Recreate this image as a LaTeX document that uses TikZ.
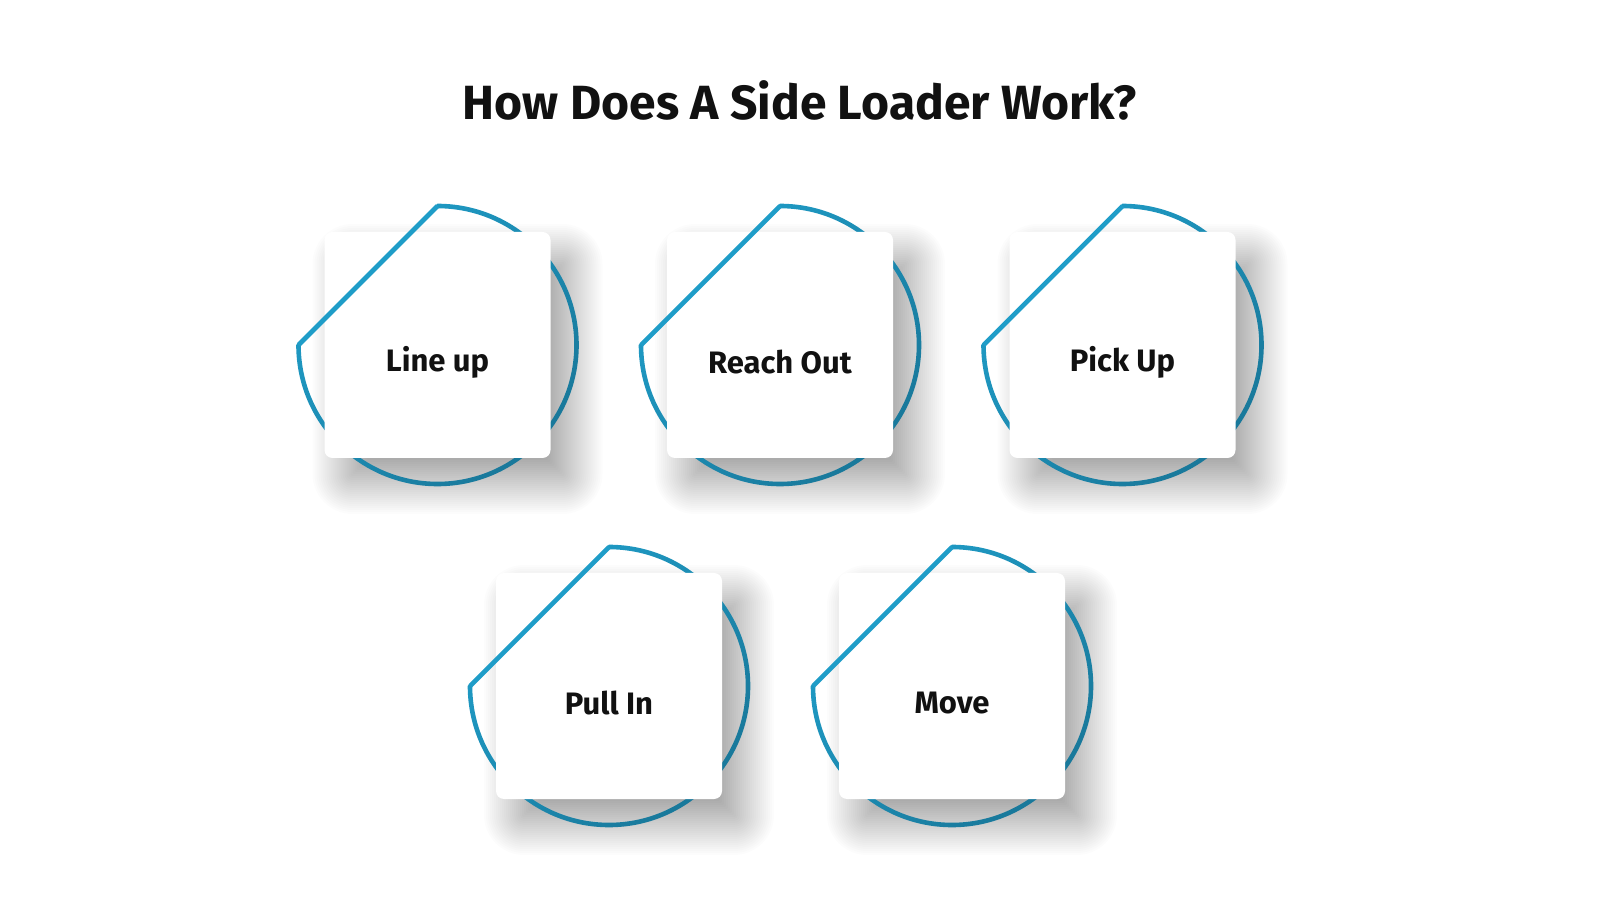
\documentclass[tikz,border=0pt]{standalone}
\usepackage{fontspec}
\setmainfont{Fira Sans}
\definecolor{ringA}{HTML}{1F9DC8}
\definecolor{ringB}{HTML}{19789A}
\definecolor{txt}{HTML}{111111}
\tikzset{
  card/.style={fill=white, rounded corners=8pt, minimum width=226pt, minimum height=226pt, inner sep=0pt},
  shadowlayer/.style={fill=black, fill opacity=0.011},
  label/.style={font=\fontsize{31}{36}\selectfont\bfseries, text=txt},
  ring/.style={even odd rule, top color=ringA, bottom color=ringB, shading angle=45},
  chord/.style={draw=ringA, line width=4.6pt, line join=miter},
}
\newcommand\loaderstep[4]{% name, cx, cy, text
  \foreach \e in {-26,-24,...,32}{
    \path[shadowlayer, rounded corners={max(8+\e,2)}] (#2-113+20-\e,#3-113-24-\e) rectangle (#2+113+20+\e,#3+113-24+\e);
  }
  \shade[ring]
    (#2-141.3,#3) -- (#2,#3+141.3) arc[start angle=90, end angle=-180, radius=141.3] -- cycle
    (#2-136.7,#3) -- (#2,#3+136.7) arc[start angle=90, end angle=-180, radius=136.7] -- cycle;
  \node[card] (#1) at (#2,#3) {};
  \coordinate (#1-w) at (#2-139,#3);
  \coordinate (#1-n) at (#2,#3+139);
  \draw[chord] (#1-w) -- (#1-n);
  \node[label] (#1-text) at (#2,#3-17) {#4};
}
\begin{document}
\begin{tikzpicture}[x=1pt,y=1pt]
\useasboundingbox (0,0) rectangle (1600,900);
\fill[white] (0,0) rectangle (1600,900);
\node[font=\fontsize{48}{56}\selectfont\bfseries, text=txt] (title) at (800,800) {How Does A Side Loader Work?};
\loaderstep{s1}{437.5}{555}{Line up}
\loaderstep{s2}{780}{555}{Reach Out}
\loaderstep{s3}{1122.5}{555}{Pick Up}
\loaderstep{s4}{609}{214}{Pull In}
\loaderstep{s5}{952}{214}{Move}
\end{tikzpicture}
\end{document}
